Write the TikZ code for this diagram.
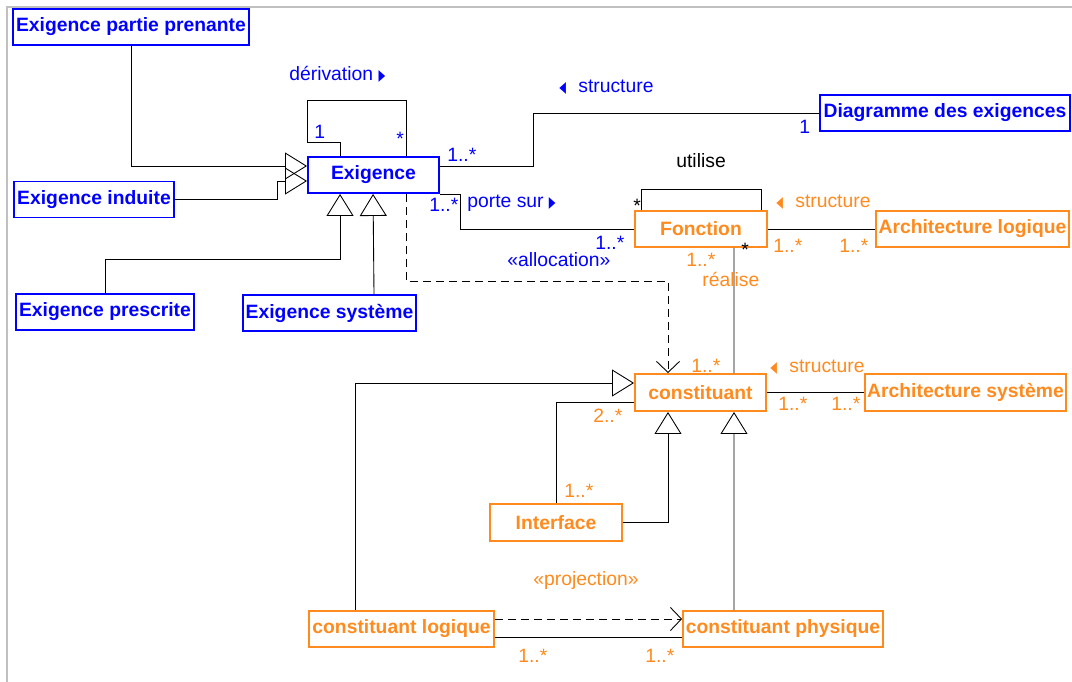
\documentclass[tikz,border=0pt]{standalone}
\usepackage{fontspec}
\setmainfont{Liberation Sans}
\newfontfamily\symfont{DejaVu Sans}
\usetikzlibrary{positioning,calc,arrows.meta}
\definecolor{reqblue}{RGB}{0,0,255}
\definecolor{sysorange}{RGB}{255,138,30}
\definecolor{framegray}{RGB}{192,192,192}

\begin{document}
\begin{tikzpicture}[x=0.02cm,y=-0.02cm,
    req/.style={draw=reqblue,text=reqblue,line width=1.1pt,inner sep=0pt,minimum height=0.72cm,font=\fontsize{11}{13}\selectfont\bfseries},
    sys/.style={draw=sysorange,text=sysorange,line width=1.1pt,inner sep=0pt,minimum height=0.72cm,font=\fontsize{11}{13}\selectfont\bfseries},
    lbl/.style={inner sep=0pt,anchor=base west,font=\fontsize{11}{13}\selectfont},
    bmult/.style={lbl,text=reqblue},
    omult/.style={lbl,text=sysorange},
    assoc/.style={line width=0.5pt},
    gen/.style={assoc,-{Triangle[open,length=0.44cm,width=0.54cm]}},
    dep/.style={assoc,dash pattern=on 0.16cm off 0.1cm,-{Straight Barb[length=0.22cm,width=0.46cm]}}]
    \useasboundingbox (0,0) rectangle (1072,682);
    % Frame
    \draw[framegray,line width=1.1pt] (7,682) -- (7,7) -- (1072,7);
    % Requirements
    \node[req,minimum width=4.72cm] (epp) at (131,27) {Exigence partie prenante};
    \node[req,minimum width=2.62cm] (exig) at (373.5,175) {Exigence};
    \node[req,minimum width=3.2cm] (induite) at (94,199.5) {Exigence induite};
    \node[req,minimum width=3.56cm] (prescrite) at (105,312) {Exigence prescrite};
    \node[req,minimum width=3.46cm] (systeme) at (329.5,313) {Exigence système};
    \node[req,minimum width=5cm] (diag) at (945,113) {Diagramme des exigences};
    % System side
    \node[sys,minimum width=2.64cm] (fonction) at (701,229) {Fonction};
    \node[sys,minimum width=3.86cm] (archlog) at (972.5,229) {Architecture logique};
    \node[sys,minimum width=2.62cm,minimum height=0.74cm] (constituant) at (700.5,392.5) {constituant};
    \node[sys,minimum width=4.02cm,minimum height=0.74cm] (archsys) at (965.5,392.5) {Architecture système};
    \node[sys,minimum width=2.64cm,minimum height=0.74cm] (interface) at (556,522.5) {Interface};
    \node[sys,minimum width=3.7cm] (clog) at (401.5,629) {constituant logique};
    \node[sys,minimum width=4cm] (cphys) at (783,629) {constituant physique};

    % Generalisations
    \draw[gen] (epp.south) |- ($(exig.west)+(0,-9)$);
    \draw[gen] (induite.east) -- ++(102,0) |- ($(exig.west)+(0,6)$);
    \draw[gen] (prescrite.north) -- ++(0,-34) -| ($(exig.south west)+(33,0)$);
    \draw[gen] ($(systeme.north)+(44.5,0)$) -- ($(exig.south west)+(66,0)$);
    \draw[gen] (interface.east) -| ($(constituant.south)+(-32.5,0)$);
    \draw[gen] ($(clog.north)+(-46.5,0)$) |- ($(constituant.west)+(0,-9.5)$);
    \draw[gen] ($(cphys.north)+(-49,0)$) -- ($(constituant.south)+(33.5,0)$);
    % Associations
    \draw[assoc] ($(exig.north west)+(33,0)$) -- ++(0,-14) -| ++(-33,-42) -| ($(exig.north west)+(99,0)$);
    \draw[assoc] ($(exig.east)+(0,-9)$) -- ++(93,0) |- (diag.west);
    \draw[assoc] (exig.south east) -- ++(20,0) |- (fonction.west);
    \draw[assoc] ($(fonction.north west)+(7,0)$) -- ++(0,-21) -| ($(fonction.north east)+(-7,0)$);
    \draw[assoc] (fonction.east) -- (archlog.west);
    \draw[assoc] ($(fonction.south)+(33,0)$) -- ($(constituant.north)+(33.5,0)$);
    \draw[assoc] (constituant.east) -- (archsys.west);
    \draw[assoc] (interface.north) |- ($(constituant.west)+(0,9.5)$);
    \draw[assoc] ($(clog.east)+(0,8)$) -- ($(cphys.west)+(0,8)$);
    % Dependencies
    \draw[dep] ($(exig.south west)+(99,0)$) -- ++(0,87) -| ($(constituant.north)+(-32.5,0)$);
    \draw[dep] ($(clog.east)+(0,-10)$) -- ($(cphys.west)+(0,-10)$);

    % Role names
    \node[bmult] (derivation) at (289,81) {dérivation \scalebox{0.45}[0.8]{\symfont ▶}};
    \node[bmult] (structure1) at (559,93) {\scalebox{0.45}[0.8]{\symfont ◀}\hspace{7pt}structure};
    \node[bmult] (portesur) at (467,208) {porte sur \scalebox{0.45}[0.8]{\symfont ▶}};
    \node[bmult] (allocation) at (507,267) {«allocation»};
    \node[lbl] (utilise) at (676,168) {utilise};
    \node[omult] (structure2) at (776,208) {\scalebox{0.45}[0.8]{\symfont ◀}\hspace{7pt}structure};
    \node[omult] (realise) at (702,287) {réalise};
    \node[omult] (structure3) at (770,372) {\scalebox{0.45}[0.8]{\symfont ◀}\hspace{7pt}structure};
    \node[omult] (projection) at (533,585) {«projection»};
    % Multiplicities
    \foreach \x/\y/\t [count=\i] in {314/139/1, 396/146/*, 447/162/1..*, 429/212/1..*, 595/250/1..*, 799/134/1}
        \node[bmult] (bm\i) at (\x,\y) {\t};
    \foreach \x/\y/\t [count=\i] in {773/253/1..*, 839/253/1..*, 686/267/1..*, 691/372/1..*, 593/422/2..*,
        778/410/1..*, 831/410/1..*, 564/497/1..*, 518/662/1..*, 645/662/1..*}
        \node[omult] (om\i) at (\x,\y) {\t};
    \node[lbl] (km1) at (633,213) {*};
    \node[lbl] (km2) at (741,257) {*};
\end{tikzpicture}
\end{document}
